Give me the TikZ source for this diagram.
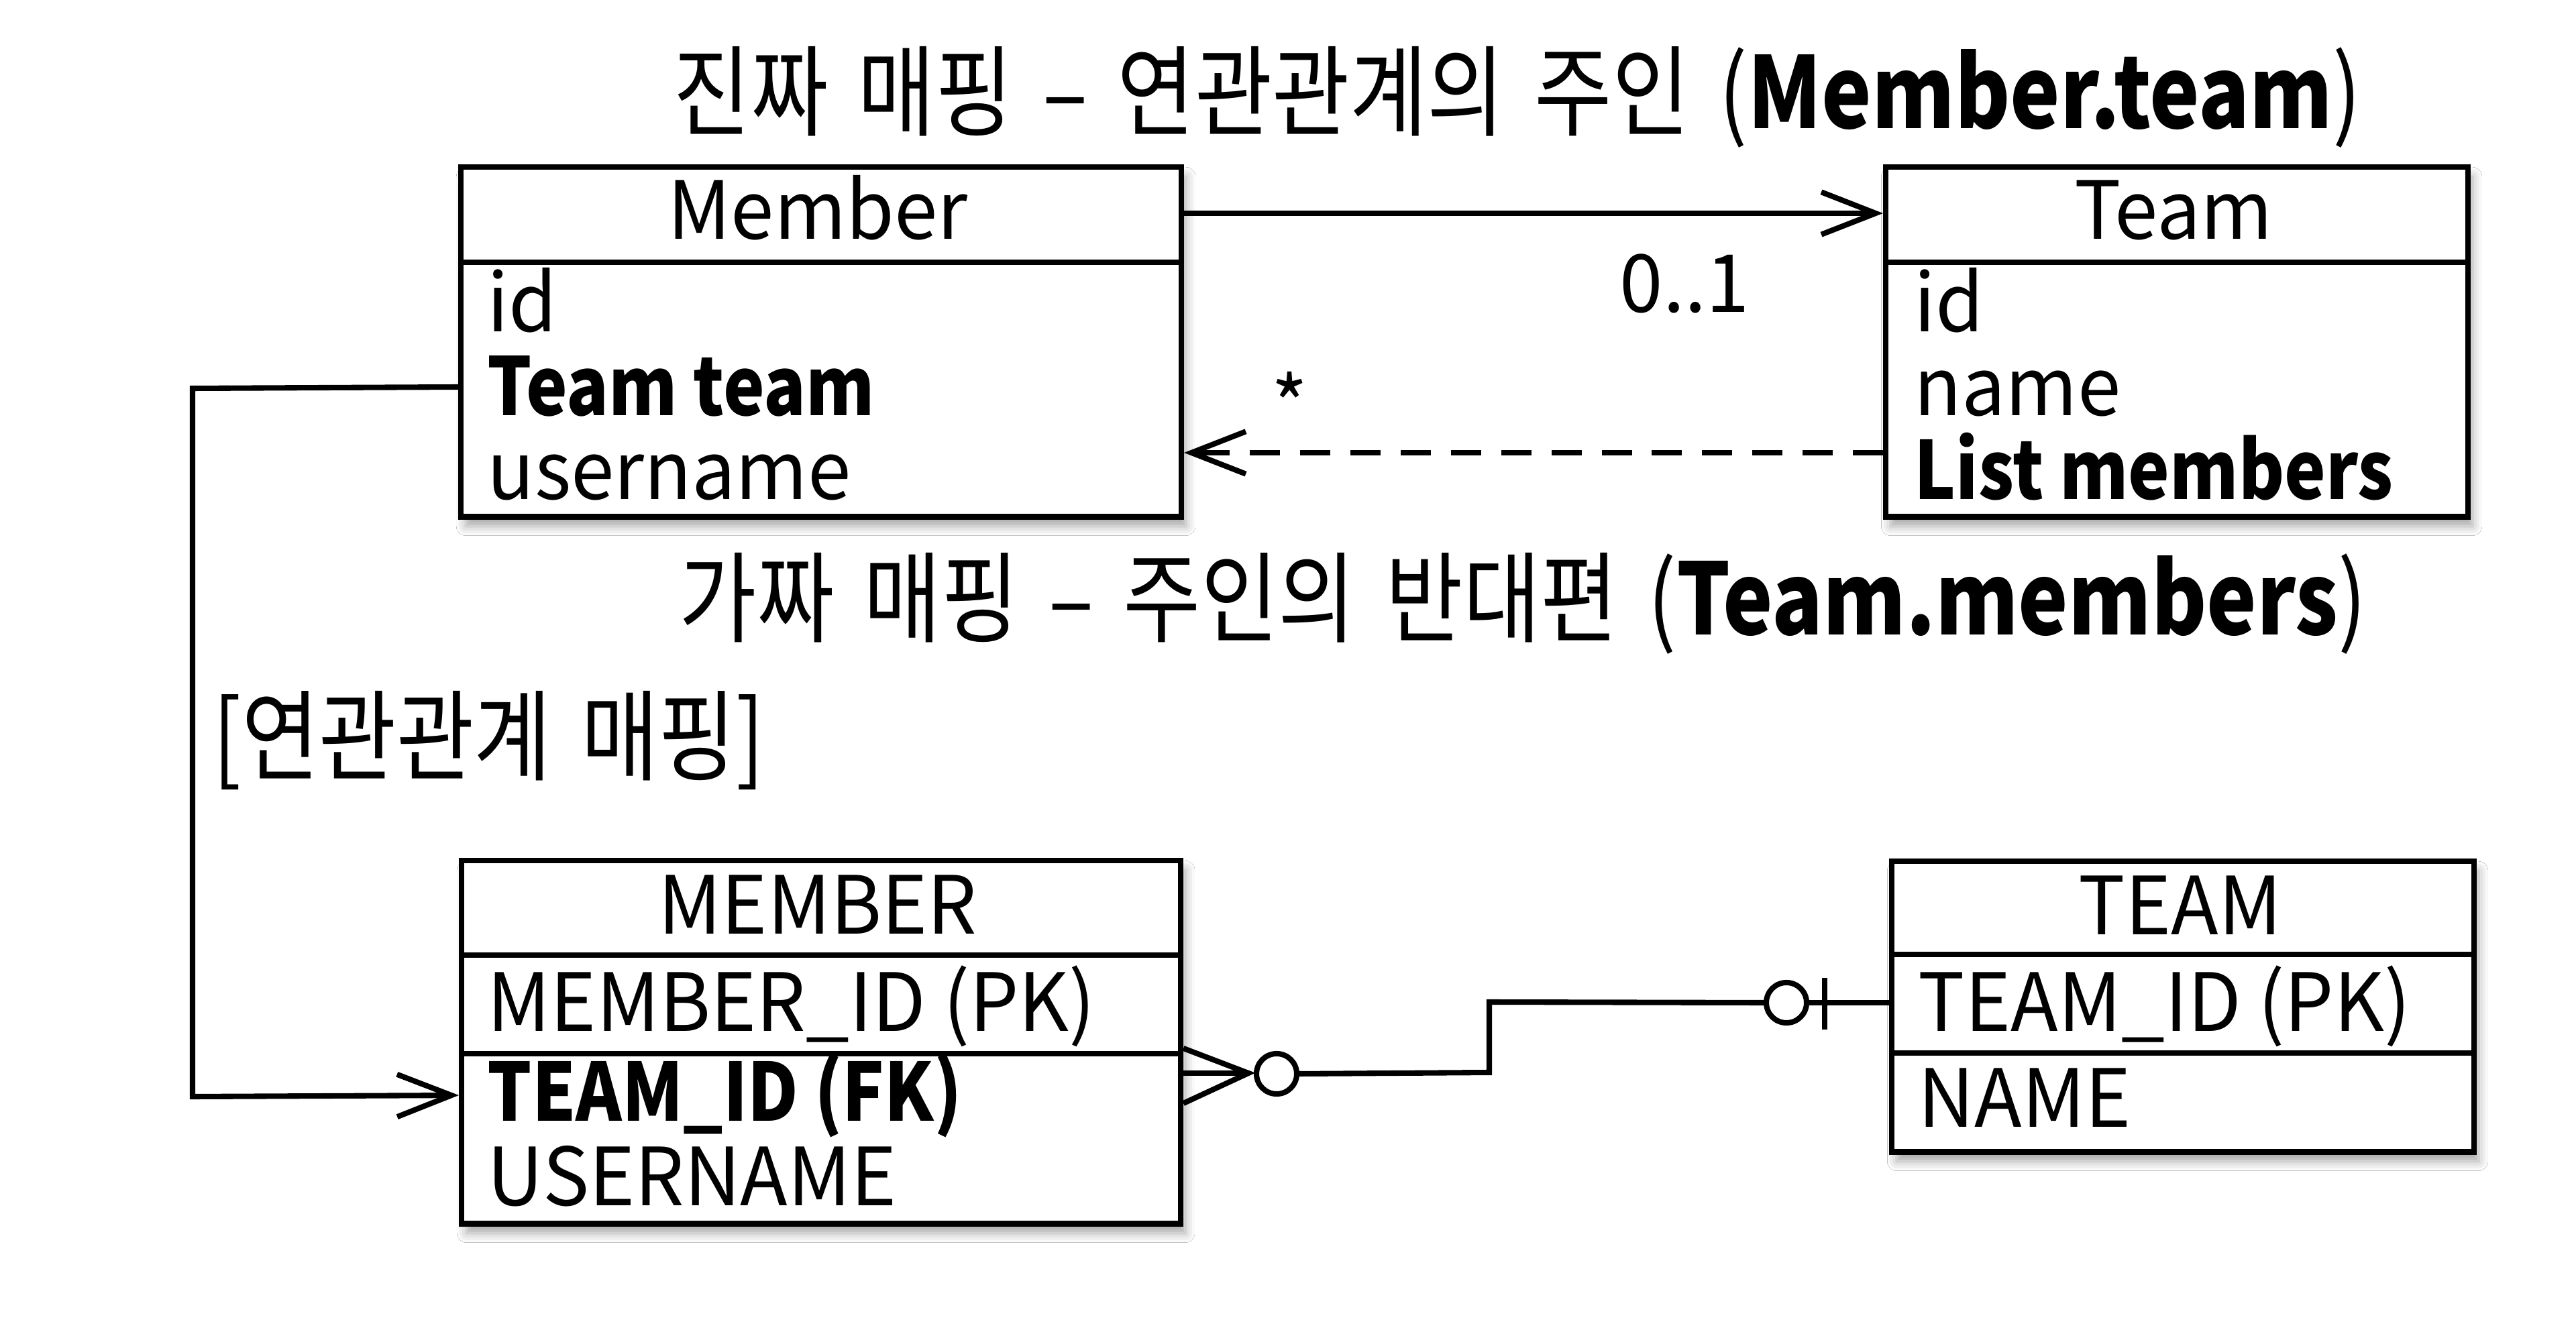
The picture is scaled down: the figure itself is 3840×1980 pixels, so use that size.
\documentclass[tikz,border=0pt]{standalone}
\usepackage{fontspec}
\setmainfont{Noto Sans CJK KR}[FakeStretch=0.97,BoldFeatures={FakeStretch=0.87}]
\newfontfamily\krfam[FakeStretch=0.85]{Noto Sans CJK KR}
\newfontfamily\enfam[FakeStretch=0.85]{Noto Sans CJK KR}
\newcommand\krT{\krfam\fontsize{42pt}{50pt}\selectfont\spaceskip=0.3em\relax}
\newcommand\enT{\enfam\fontsize{42pt}{50pt}\selectfont}
\usetikzlibrary{arrows.meta,shadows.blur}
\begin{document}
\begin{tikzpicture}[x=0.01cm,y=-0.01cm,
  box/.style={draw, fill=white, line width=2.4pt, inner sep=0pt, anchor=north west,
    blur shadow={shadow xshift=2pt, shadow yshift=-4pt, shadow blur radius=4pt, shadow opacity=35}},
  txt/.style={inner sep=0pt, anchor=base west, font=\fontsize{34pt}{40pt}\selectfont},
  hdr/.style={inner sep=0pt, anchor=base, font=\fontsize{34pt}{40pt}\selectfont},
  ttl/.style={inner sep=0pt, anchor=base west},
  sepline/.style={line width=2.4pt},
  conn/.style={line width=2.3pt},
  barb/.style={-{Straight Barb[length=23pt,width=18pt,line width=2.3pt]}},
  circ/.style={draw, circle, fill=white, line width=2.3pt, minimum size=0.6cm, inner sep=0pt}]
\fill[white] (0,0) rectangle (3840,1980);
\useasboundingbox (0,0) rectangle (3840,1980);

% titles
\node[ttl] (t1) at (1003,192) {\krT 진짜 매핑 – 연관관계의 주인 \enT(\textbf{Member.team})};
\node[ttl] (t2) at (1012,947) {\krT 가짜 매핑 – 주인의 반대편 \enT(\textbf{Team.members})};
\node[ttl] (lbl) at (317,1152) {\krT [연관관계 매핑]};

% boxes
\node[box, minimum width=10.73cm, minimum height=5.21cm] (member) at (683,245) {};
\node[box, minimum width=8.67cm, minimum height=5.21cm] (team) at (2807,245) {};
\node[box, minimum width=10.71cm, minimum height=5.41cm] (MEMBER) at (684,1279) {};
\node[box, minimum width=8.67cm, minimum height=4.33cm] (TEAM) at (2816,1280) {};

\draw[sepline] (member.west |- 0,391) -- (member.east |- 0,391);
\draw[sepline] (team.west |- 0,391) -- (team.east |- 0,391);
\draw[sepline] (MEMBER.west |- 0,1424) -- (MEMBER.east |- 0,1424);
\draw[sepline] (MEMBER.west |- 0,1571) -- (MEMBER.east |- 0,1571);
\draw[sepline] (TEAM.west |- 0,1423) -- (TEAM.east |- 0,1423);
\draw[sepline] (TEAM.west |- 0,1570) -- (TEAM.east |- 0,1570);

% box texts
\node[hdr] (mh) at (1219,357) {Member};
\node[txt] (m1) at (726,495) {id};
\node[txt] (m2) at (726,620) {\textbf{Team team}};
\node[txt] (m3) at (726,745) {username};

\node[hdr] (th) at (3240,357) {Team};
\node[txt] (tt1) at (2853,495) {id};
\node[txt] (tt2) at (2853,620) {name};
\node[txt] (tt3) at (2853,745) {\textbf{List members}};

\node[hdr] (MH) at (1219,1392) {MEMBER};
\node[txt] (M1) at (726,1537) {MEMBER\_ID (PK)};
\node[txt] (M2) at (726,1671) {\textbf{TEAM\_ID (FK)}};
\node[txt] (M3) at (726,1797) {USERNAME};

\node[hdr] (TH) at (3250,1393) {TEAM};
\node[txt] (T1) at (2859,1537) {TEAM\_ID (PK)};
\node[txt] (T2) at (2859,1680) {NAME};

% multiplicities
\node[txt] (mult1) at (2414,466) {0..1};
\node[hdr] (mult2) at (1923,650) {*};

% top association
\draw[conn,barb] (member.east |- 0,318) -- (team.west |- 0,318);
\draw[conn,barb,dash pattern=on 12.8pt off 8.5pt] (team.west |- 0,675) -- (member.east |- 0,675);

% mapping connector
\coordinate (lc1) at (287,579);
\coordinate (lc2) at (287,1635);
\draw[conn,barb] (member.west |- 0,577) -- (lc1) -- (lc2) -- (MEMBER.west |- 0,1633);

% crow's foot relation
\coordinate (cf) at (1861,1600);
\draw[conn] (MEMBER.east |- 0,1563) -- (cf) -- (MEMBER.east |- 0,1645);
\draw[conn] (MEMBER.east |- 0,1600) -- (cf);
\node[circ] (c1) at (1903,1601) {};
\node[circ] (c2) at (2663,1495) {};
\coordinate (e1) at (2220,1599);
\coordinate (e2) at (2220,1494);
\draw[conn] (c1.east) -- (e1) -- (e2) -- (c2.west);
\draw[conn] (c2.east) -- (TEAM.west |- c2.east);
\coordinate (b1) at (2720,1458);
\coordinate (b2) at (2720,1535);
\draw[conn] (b1) -- (b2);
\end{tikzpicture}
\end{document}
